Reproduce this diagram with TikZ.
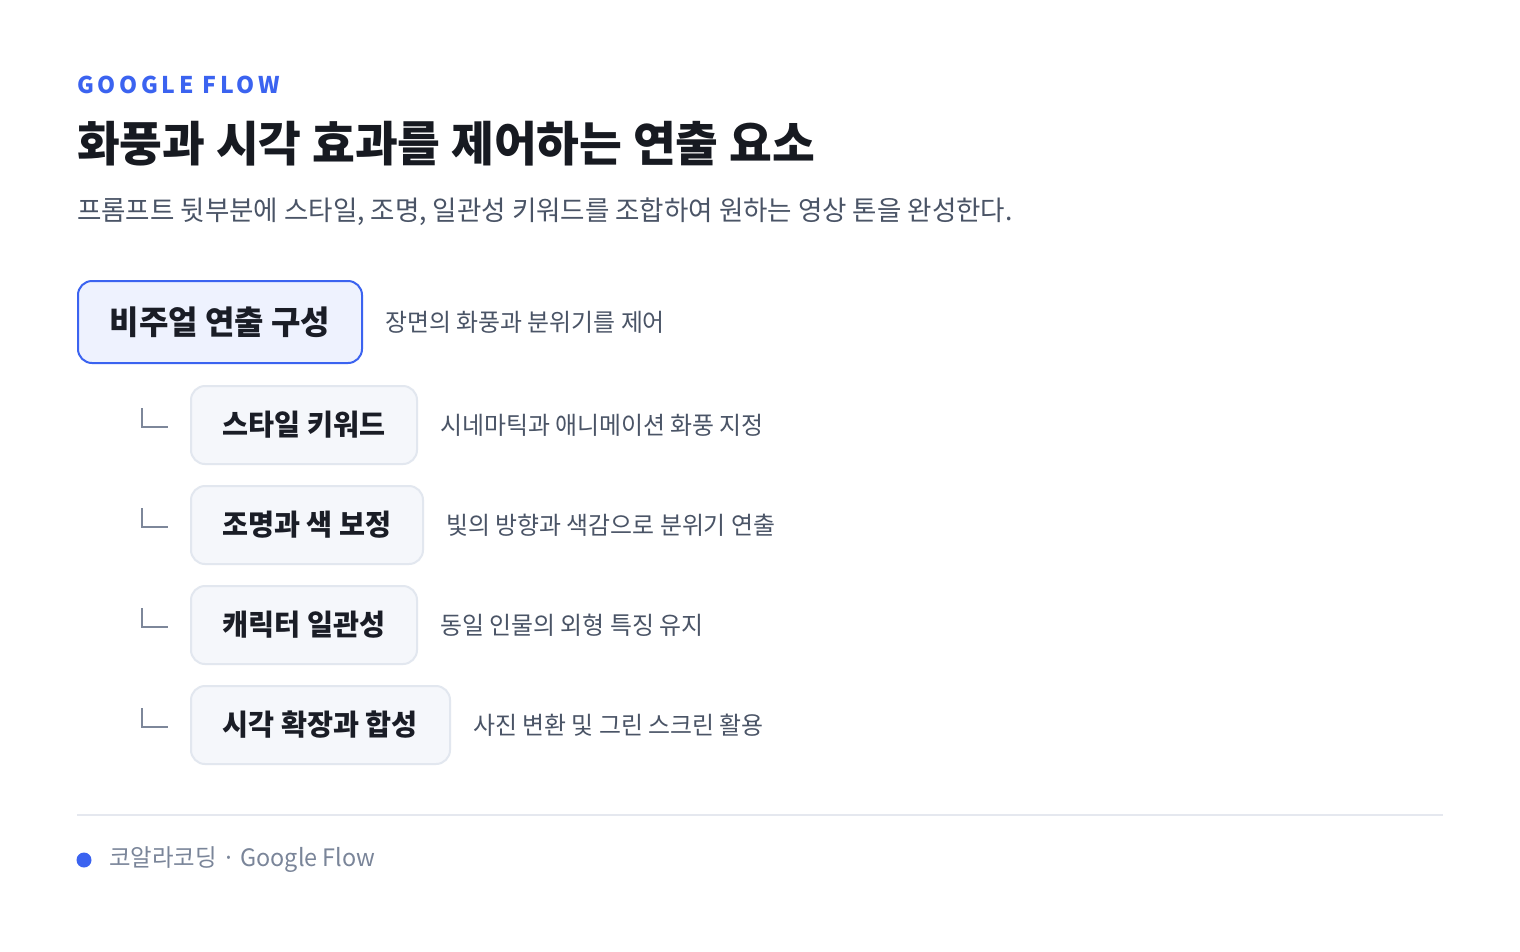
\documentclass[tikz,border=0pt]{standalone}
\usepackage{fontspec}
\setmainfont{Noto Sans CJK KR}[FakeStretch=0.975]
\newfontfamily\eyebrowfont{Noto Sans CJK KR}[LetterSpace=16]
\definecolor{accent}{HTML}{3B63F0}
\definecolor{titlecol}{HTML}{171A21}
\definecolor{subcol}{HTML}{4A5466}
\definecolor{desccol}{HTML}{4A5466}
\definecolor{boxtext}{HTML}{1A1D26}
\definecolor{mainfill}{HTML}{EEF2FE}
\definecolor{subfill}{HTML}{F5F7FB}
\definecolor{subborder}{HTML}{E2E7EF}
\definecolor{markcol}{HTML}{7D879A}
\definecolor{rulecol}{HTML}{E5E8EF}
\definecolor{footcol}{HTML}{7A8599}
\begin{document}
\begin{tikzpicture}[x=1pt,y=-1pt,
  txt/.style={inner sep=0pt, anchor=west},
  desc/.style={txt, text=desccol, font=\fontsize{24.5}{30}\selectfont},
  mainbox/.style={draw=accent, line width=2pt, fill=mainfill, rounded corners=14pt,
    minimum width=284pt, minimum height=82pt, inner sep=0pt, text=boxtext,
    font=\bfseries\fontsize{32.8}{38}\selectfont},
  subbox/.style={draw=subborder, line width=2pt, fill=subfill, rounded corners=14pt,
    minimum height=78pt, inner sep=0pt, text=boxtext,
    font=\bfseries\fontsize{29}{34}\selectfont},
  marker/.style={draw=markcol, line width=2pt}
]
\fill[white] (0,0) rectangle (1520,951);
\useasboundingbox (0,0) rectangle (1520,951);

\node[txt, text=accent, font=\eyebrowfont\bfseries\fontsize{23}{28}\selectfont] (eyebrow) at (77,85) {GOOGLE FLOW};
\node[txt, text=titlecol, font=\bfseries\fontsize{47.7}{56}\selectfont] (title) at (77,144) {화풍과 시각 효과를 제어하는 연출 요소};
\node[txt, text=subcol, font=\fontsize{27.2}{32}\selectfont] (subtitle) at (77,212) {프롬프트 뒷부분에 스타일, 조명, 일관성 키워드를 조합하여 원하는 영상 톤을 완성한다.};

\node[mainbox] (main) at (220,322) {비주얼 연출 구성};
\node[desc] (maind) at ([xshift=22pt]main.east) {장면의 화풍과 분위기를 제어};

\node[subbox, minimum width=226pt] (b1) at (304,425) {스타일 키워드};
\node[desc] (d1) at ([xshift=22pt]b1.east) {시네마틱과 애니메이션 화풍 지정};
\node[subbox, minimum width=232pt] (b2) at (307,525) {조명과 색 보정};
\node[desc] (d2) at ([xshift=22pt]b2.east) {빛의 방향과 색감으로 분위기 연출};
\node[subbox, minimum width=226pt] (b3) at (304,625) {캐릭터 일관성};
\node[desc] (d3) at ([xshift=22pt]b3.east) {동일 인물의 외형 특징 유지};
\node[subbox, minimum width=259pt] (b4) at (320.5,725) {시각 확장과 합성};
\node[desc] (d4) at ([xshift=22pt]b4.east) {사진 변환 및 그린 스크린 활용};

\foreach \c in {425,525,625,725}{
  \draw[marker] (142,\c-17) -- (142,\c+2) -- (168,\c+2);
}

\draw[rulecol, line width=2pt] (77,815) -- (1443,815);
\fill[accent] (84,860) circle (7.5);
\node[txt, text=footcol, font=\fontsize{24}{30}\selectfont] (foot) at (109,860) {코알라코딩 · Google Flow};
\end{tikzpicture}
\end{document}
